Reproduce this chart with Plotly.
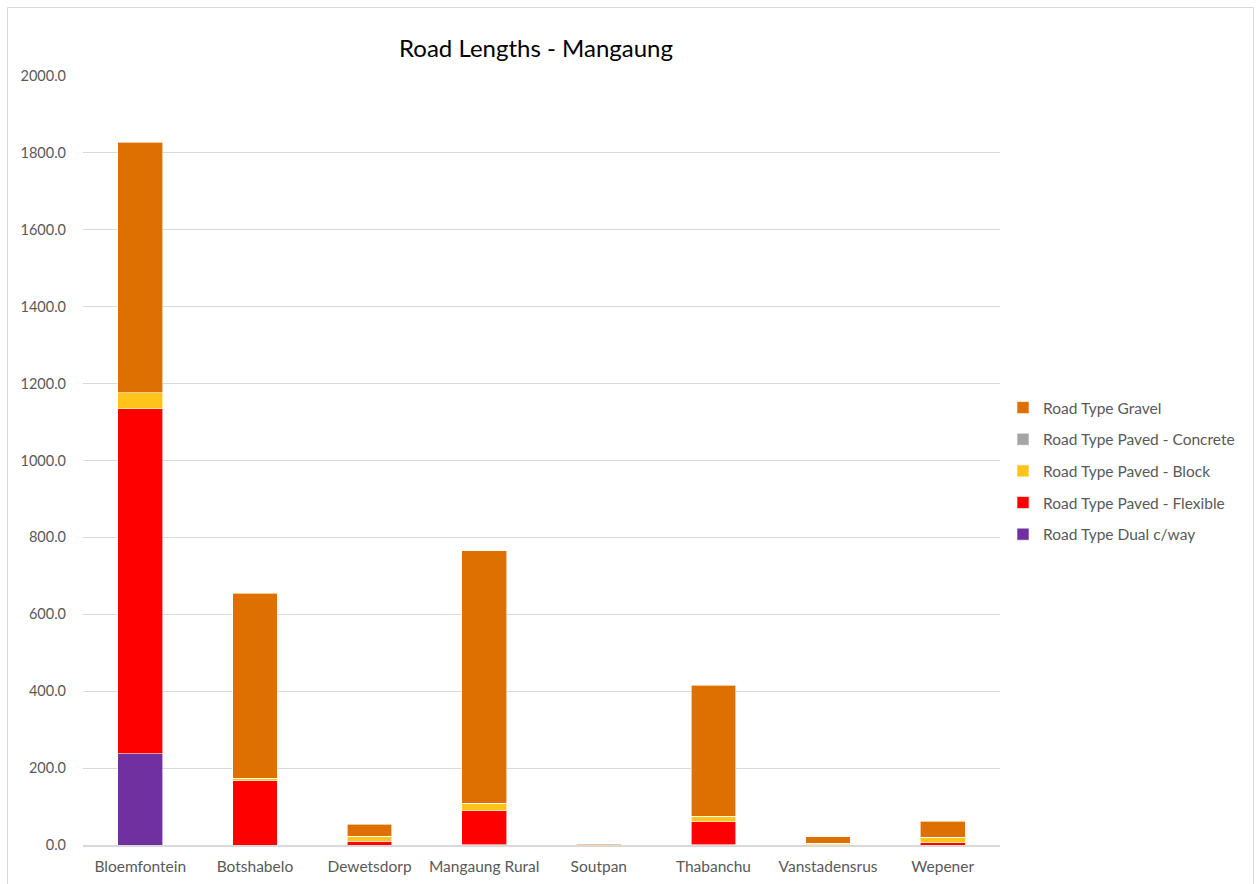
import plotly.graph_objects as go

categories = ["Bloemfontein", "Botshabelo", "Dewetsdorp", "Mangaung Rural",
              "Soutpan", "Thabanchu", "Vanstadensrus", "Wepener"]
dual_cway = [237, 0, 0, 1, 0, 1, 0, 0]
paved_flexible = [897, 167, 10, 88, 0, 59, 1, 6]
paved_block = [42, 7, 13, 19, 1, 15, 4, 14]
paved_concrete = [0, 0, 0, 0, 0, 0, 0, 0]
gravel = [652, 481, 31, 657, 2, 341, 16, 42]

series = [
    ("Road Type Dual c/way", dual_cway, "#7030A0"),
    ("Road Type Paved - Flexible", paved_flexible, "#FF0000"),
    ("Road Type Paved - Block", paved_block, "#FFC419"),
    ("Road Type Paved - Concrete", paved_concrete, "#A5A5A5"),
    ("Road Type Gravel", gravel, "#DD7000"),
]

FONT = "Lato"
GREY = "#595959"

fig = go.Figure()
for i, (name, vals, col) in enumerate(series):
    fig.add_trace(go.Bar(
        x=categories, y=vals, name=name, legendgroup=name,
        legendrank=len(series) - i,
        marker=dict(color=col, line=dict(color="white", width=0.6)),
    ))

W, H = 1257, 884
L, R, T, B = 83, 1000, 76, 845
fig.update_layout(
    width=W, height=H,
    barmode="stack", bargap=0.61,
    plot_bgcolor="white", paper_bgcolor="white",
    margin=dict(l=L, r=W - R, t=T, b=H - B, pad=0, autoexpand=False),
    title=dict(text="Road Lengths - Mangaung", x=536 / W, xanchor="center",
               y=1 - 49 / H, yanchor="middle", yref="container",
               font=dict(family=FONT, size=24, color="black")),
    font=dict(family=FONT, size=15, color=GREY),
    legend=dict(x=(1003 - L) / (R - L), xanchor="left",
                y=(B - 471) / (B - T), yanchor="middle",
                traceorder="grouped", tracegroupgap=8.5,
                font=dict(family=FONT, size=15.5, color=GREY),
                itemwidth=30, bgcolor="rgba(0,0,0,0)"),
    showlegend=True,
    shapes=[dict(type="rect", xref="paper", yref="paper",
                 x0=(7.5 - L) / (R - L), x1=(1253.5 - L) / (R - L),
                 y0=(B - 890) / (B - T), y1=(B - 7.5) / (B - T),
                 line=dict(color="#D9D9D9", width=1), layer="below")],
)
fig.update_yaxes(range=[0, 2000], dtick=200, tickformat=".1f",
                 showgrid=True, gridcolor="#D9D9D9", gridwidth=1,
                 zeroline=False, showline=False, ticks="",
                 ticklabelstandoff=16, automargin=False,
                 tickfont=dict(family=FONT, size=14.5, color=GREY))
fig.update_xaxes(showline=True, linecolor="#D9D9D9", linewidth=1.5,
                 ticks="", ticklabelstandoff=7, automargin=False,
                 tickfont=dict(family=FONT, size=15.5, color=GREY))

fig.write_html("out.html", config={"displayModeBar": False},
               post_script="document.body.style.margin='0';document.body.style.overflow='hidden';")
